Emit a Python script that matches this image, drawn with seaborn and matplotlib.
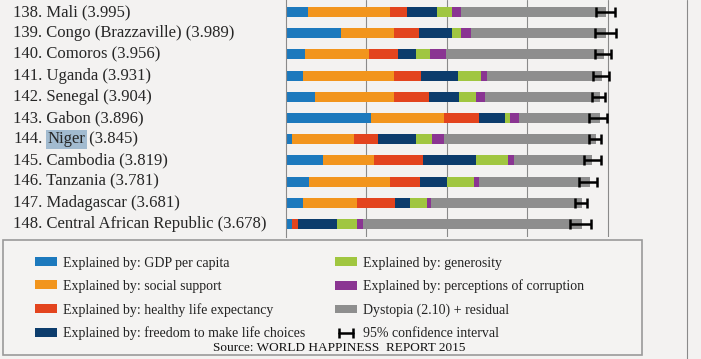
import matplotlib
matplotlib.use("Agg")
import matplotlib.pyplot as plt
from matplotlib.patches import Patch, Rectangle
from matplotlib.lines import Line2D
from matplotlib.legend_handler import HandlerLine2D
from matplotlib import transforms
import numpy as np
import pandas as pd
import seaborn as sns

# ranks 138-148, World Happiness Report 2015
ranks = [138, 139, 140, 141, 142, 143, 144, 145, 146, 147, 148]
countries = ["Mali", "Congo (Brazzaville)", "Comoros", "Uganda", "Senegal",
             "Gabon", "Niger", "Cambodia", "Tanzania", "Madagascar",
             "Central African Republic"]
scores = [3.995, 3.989, 3.956, 3.931, 3.904, 3.896, 3.845, 3.819, 3.781,
          3.681, 3.678]

# explained components
gdp = [0.27, 0.68, 0.24, 0.21, 0.36, 1.06, 0.07, 0.46, 0.29, 0.21, 0.08]
social = [1.02, 0.66, 0.79, 1.13, 0.98, 0.91, 0.77, 0.63, 1.00, 0.67, 0.00]
health = [0.21, 0.31, 0.36, 0.34, 0.44, 0.43, 0.30, 0.61, 0.38, 0.47, 0.07]
freedom = [0.38, 0.41, 0.23, 0.46, 0.37, 0.32, 0.48, 0.66, 0.33, 0.19, 0.49]
generosity = [0.18, 0.12, 0.17, 0.29, 0.21, 0.07, 0.19, 0.40, 0.34, 0.21, 0.24]
corruption = [0.12, 0.12, 0.20, 0.07, 0.11, 0.11, 0.16, 0.07, 0.06, 0.05, 0.08]
dystopia = [1.80, 1.68, 1.96, 1.43, 1.44, 1.00, 1.88, 0.98, 1.38, 1.88, 2.72]

# 95% confidence interval ends
ci_low = [3.86, 3.84, 3.84, 3.82, 3.80, 3.77, 3.77, 3.71, 3.65, 3.59, 3.53]
ci_high = [4.09, 4.11, 4.04, 4.02, 3.97, 3.99, 3.92, 3.92, 3.87, 3.74, 3.79]

components = ["GDP per capita", "social support", "healthy life expectancy",
              "freedom to make life choices", "generosity",
              "perceptions of corruption", "Dystopia (2.10) + residual"]
colors = ["#1c79bd", "#f2951d", "#e3441e", "#0c3c6c", "#a0c640",
          "#8a3592", "#8e8e8e"]

df = pd.DataFrame({
    "country": countries,
    components[0]: gdp,
    components[1]: social,
    components[2]: health,
    components[3]: freedom,
    components[4]: generosity,
    components[5]: corruption,
    components[6]: dystopia,
})
cum = df[components].cumsum(axis=1)

sns.set_style("white")
plt.rcParams["font.family"] = ["Liberation Serif", "DejaVu Serif"]

bg = "#f3f2f1"
fig = plt.figure(figsize=(7.01, 3.59), dpi=100, facecolor=bg)
ax = fig.add_axes([286 / 701, 1 - 237 / 359, 402 / 701, 237 / 359])
ax.set_facecolor(bg)

# stacked bars: draw cumulative totals from the longest down
for comp, col in zip(reversed(components), reversed(colors)):
    sns.barplot(x=cum[comp], y=df["country"], color=col, saturation=1,
                width=0.47, errorbar=None, linewidth=0, orient="h", ax=ax,
                zorder=2)

ypos = np.arange(len(countries))
ax.errorbar(x=scores, y=ypos,
            xerr=[np.array(scores) - np.array(ci_low),
                  np.array(ci_high) - np.array(scores)],
            fmt="none", ecolor="black", elinewidth=1.8, capsize=3.5,
            capthick=1.8, zorder=4)

ax.set_xlim(0, 5)
ax.set_ylim(10.61, -0.566)
ax.set_xticks([1, 2, 3, 4])
ax.xaxis.grid(True, color="#8a8a8a", linewidth=0.8)
ax.set_axisbelow(True)
ax.tick_params(left=False, bottom=False, labelleft=False, labelbottom=False)
ax.set_xlabel("")
ax.set_ylabel("")
for side in ["top", "right", "bottom"]:
    ax.spines[side].set_visible(False)
ax.spines["left"].set_color("#8a8a8a")
ax.spines["left"].set_linewidth(0.8)

# row labels
lab_size = 12
trans = transforms.blended_transform_factory(fig.transFigure, ax.transData)
for i, (r, c, s) in enumerate(zip(ranks, countries, scores)):
    if c == "Niger":
        t1 = ax.text(13 / 701, i, f"{r}.", transform=trans, ha="left",
                     va="center", fontsize=lab_size, color="#262626")
        t2 = ax.annotate(c, xy=(1, 0), xycoords=t1, xytext=(3.5, 0),
                         textcoords="offset points", ha="left", va="bottom",
                         fontsize=lab_size, color="#262626",
                         bbox=dict(boxstyle="square,pad=0.1", fc="#a2bbd0",
                                   ec="none"))
        ax.annotate(f" ({s:.3f})", xy=(1, 0), xycoords=t2, ha="left",
                    va="bottom", fontsize=lab_size, color="#262626")
    else:
        ax.text(13 / 701, i, f"{r}. {c} ({s:.3f})", transform=trans,
                ha="left", va="center", fontsize=lab_size, color="#262626")

# outer frame line on the right
fig.add_artist(Line2D([687 / 701, 687 / 701], [0, 1], transform=fig.transFigure,
                      color="#8a8a8a", linewidth=0.8))

# legend box
fig.add_artist(Rectangle((3 / 701, 4 / 359), 639 / 701, 115 / 359,
                         transform=fig.transFigure, facecolor="#f4f3f2",
                         edgecolor="#9a9a9a", linewidth=1.2, zorder=3))

handles = [Patch(facecolor=c, edgecolor="none") for c in colors]
labels = ["Explained by: " + c for c in components[:6]] + [components[6]]
ci_handle = Line2D([], [], color="black", linewidth=1.8, marker="|",
                   markersize=7, markeredgewidth=1.8)

leg_kw = dict(frameon=False, loc="upper left", fontsize=10, borderpad=0,
              borderaxespad=0, handlelength=1.6, handleheight=0.6,
              handletextpad=0.45, labelspacing=0.73,
              labelcolor="#222222")
leg1 = fig.legend(handles[:4], labels[:4],
                  bbox_to_anchor=(35 / 701, 1 - 256.5 / 359), **leg_kw)
leg2 = fig.legend(handles[4:] + [ci_handle], labels[4:] + ["95% confidence interval"],
                  bbox_to_anchor=(335 / 701, 1 - 256.5 / 359),
                  handler_map={ci_handle: HandlerLine2D(numpoints=2)}, **leg_kw)
leg1.set_zorder(5)
leg2.set_zorder(5)

fig.text(213 / 701, 1 - 348 / 359, "Source: WORLD HAPPINESS  REPORT 2015",
         ha="left", va="center", fontsize=9.5, color="#111111", zorder=6)

fig.savefig("out.png", dpi=100, facecolor=bg)
